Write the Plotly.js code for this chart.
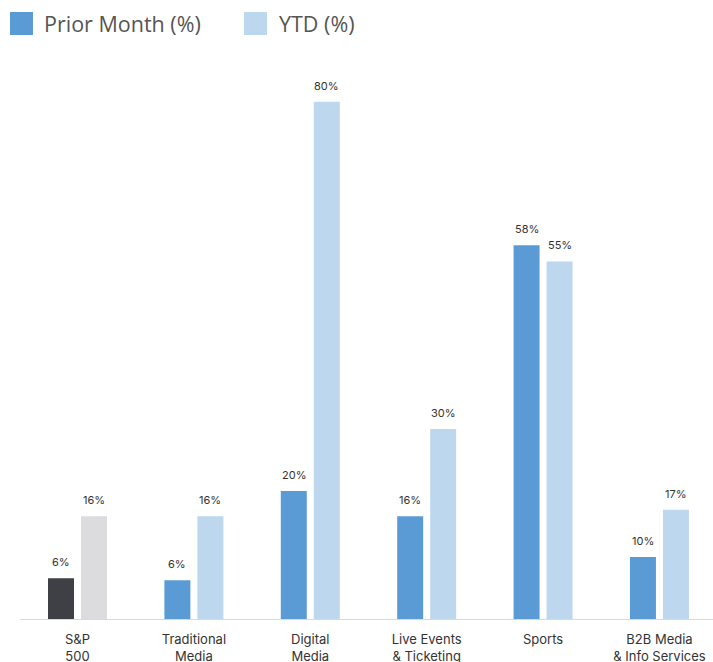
<!DOCTYPE html>
<html>
<head>
<meta charset="utf-8">
<script src="https://cdn.plot.ly/plotly-3.0.1.min.js"></script>
<style>
  html, body { margin: 0; padding: 0; background: #ffffff; }
  #chart { width: 713px; height: 662px; }
</style>
</head>
<body>
<div id="chart"></div>
<script>
// ---- Data ----
const categories = ["S&P<br>500", "Traditional<br>Media", "Digital<br>Media", "Live Events<br>& Ticketing", "Sports", "B2B Media<br>& Info Services"];
const priorMonth = [6.3, 6.0, 19.8, 15.9, 57.8, 9.6];
const ytd = [15.9, 15.9, 80.0, 29.4, 55.3, 16.9];
const priorMonthLabels = ["6%", "6%", "20%", "16%", "58%", "10%"];
const ytdLabels = ["16%", "16%", "80%", "30%", "55%", "17%"];
const seriesNames = ["Prior Month (%)", "YTD (%)"];

// ---- Styling ----
const blue = "#5b9bd5";
const lightBlue = "#bdd7ee";
const benchDark = "#3f4045";
const benchLight = "#dcdcde";
const priorColors = categories.map((c, i) => i === 0 ? benchDark : blue);
const ytdColors = categories.map((c, i) => i === 0 ? benchLight : lightBlue);

const traces = [
  { type: "bar", name: seriesNames[0], x: categories, y: priorMonth,
    marker: { color: priorColors }, hoverinfo: "skip", showlegend: false },
  { type: "bar", name: seriesNames[1], x: categories, y: ytd,
    marker: { color: ytdColors }, hoverinfo: "skip", showlegend: false }
];

const W = 713, H = 662;
const M = { l: 20, r: 0, t: 60, b: 43 };
const pw = W - M.l - M.r, ph = H - M.t - M.b;
const px = v => (v - M.l) / pw;           // pixel x -> paper x
const py = v => (H - M.b - v) / ph;       // pixel y -> paper y

const annotations = [];
const offset = 16.5;
categories.forEach((c, i) => {
  annotations.push({ x: c, y: priorMonth[i], xref: "x", yref: "y", text: priorMonthLabels[i],
    showarrow: false, xshift: -offset, yshift: 16, yanchor: "middle",
    font: { family: "Inter, sans-serif", size: 11, color: "#333333" } });
  annotations.push({ x: c, y: ytd[i], xref: "x", yref: "y", text: ytdLabels[i],
    showarrow: false, xshift: offset, yshift: 16, yanchor: "middle",
    font: { family: "Inter, sans-serif", size: 11, color: "#333333" } });
});

// legend (custom, larger swatches)
const legendFont = { family: "Open Sans, sans-serif", size: 21.5, color: "#555555" };
annotations.push({ xref: "paper", yref: "paper", x: px(42), y: py(23.5), xanchor: "left", yanchor: "middle",
  text: seriesNames[0], showarrow: false, font: legendFont });
annotations.push({ xref: "paper", yref: "paper", x: px(277), y: py(23.5), xanchor: "left", yanchor: "middle",
  text: seriesNames[1], showarrow: false, font: legendFont });

const shapes = [
  { type: "rect", xref: "paper", yref: "paper", x0: px(10), x1: px(33), y0: py(35), y1: py(12),
    fillcolor: blue, line: { width: 0 } },
  { type: "rect", xref: "paper", yref: "paper", x0: px(244), x1: px(267), y0: py(35), y1: py(12),
    fillcolor: lightBlue, line: { width: 0 } }
];

const layout = {
  width: W, height: H,
  margin: M,
  paper_bgcolor: "#ffffff", plot_bgcolor: "#ffffff",
  barmode: "group", bargap: 0.433, bargroupgap: 0.212,
  showlegend: false,
  xaxis: {
    type: "category",
    range: [-0.494, 5.46],
    showline: true, linecolor: "#d9d9d9", linewidth: 1,
    showgrid: false, zeroline: false, ticks: "",
    ticklabelstandoff: 8,
    tickfont: { family: "Inter, sans-serif", size: 13, color: "#333333" },
    fixedrange: true
  },
  yaxis: {
    range: [0, 86.45],
    showgrid: false, zeroline: false, showline: false,
    showticklabels: false, ticks: "", fixedrange: true
  },
  annotations: annotations,
  shapes: shapes
};

Plotly.newPlot("chart", traces, layout, { displayModeBar: false, staticPlot: true });
</script>
</body>
</html>
